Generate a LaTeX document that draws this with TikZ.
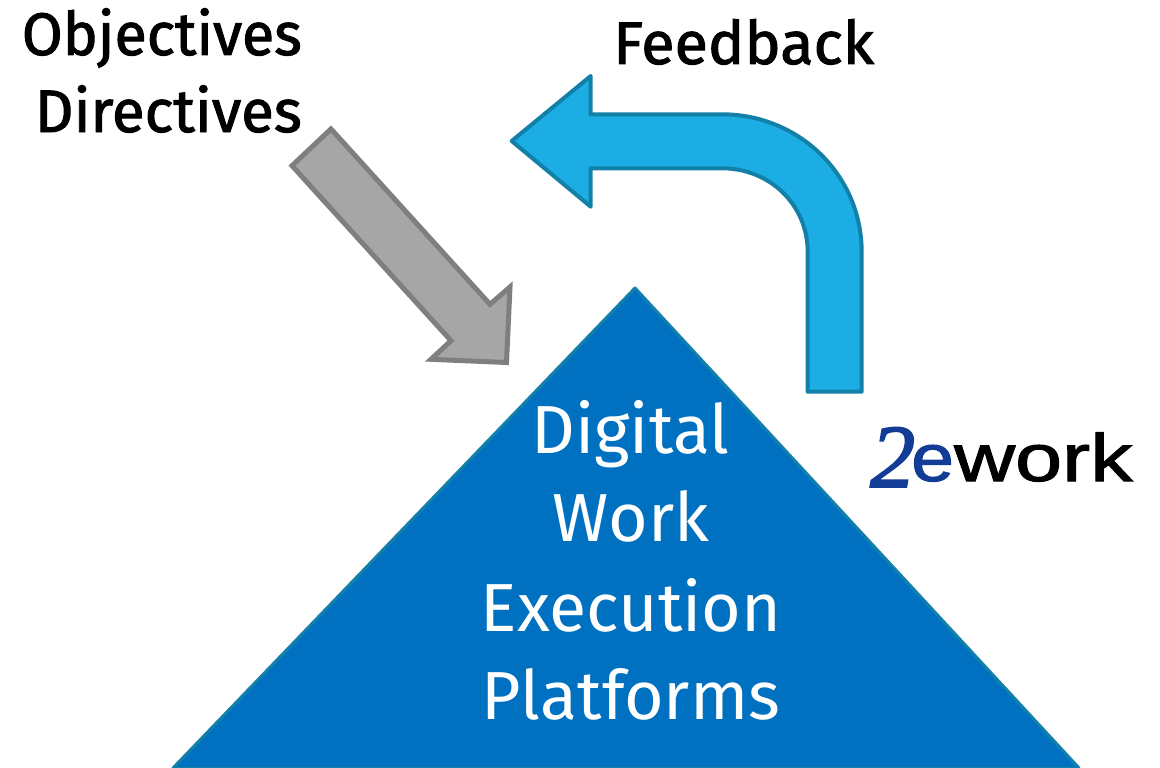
\documentclass[tikz,border=0pt]{standalone}
\usepackage{fontspec}
\setmainfont{Fira Sans}
\newfontfamily\heavyfont{Fira Sans}[RawFeature={embolden=1.6}]
\newfontfamily\logosans{Liberation Sans}[RawFeature={embolden=1.5}]
\newfontfamily\logoserif{Liberation Serif}[RawFeature={embolden=2}]
\definecolor{tribluefill}{HTML}{0070C0}
\definecolor{triblueedge}{HTML}{1380AB}
\definecolor{arrowblue}{HTML}{1CADE4}
\definecolor{arrowedge}{HTML}{1380A8}
\definecolor{grayfill}{HTML}{A6A6A6}
\definecolor{grayedge}{HTML}{7F7F7F}
\definecolor{logoblue}{HTML}{123C96}
\tikzset{
  darklabel/.style={inner sep=0pt,text=black,font=\heavyfont\fontsize{60}{64}\selectfont},
  whitelabel/.style={inner sep=0pt,text=white,font=\fontsize{68}{72}\selectfont},
  logopart/.style={inner sep=0pt,anchor=base west}
}
\begin{document}
\begin{tikzpicture}[x=1pt,y=-1pt]
\useasboundingbox (0,0) rectangle (1160,768);
\begin{scope}
\clip (0,0) rectangle (1160,768);
\draw[triblueedge,line width=3pt,fill=tribluefill,line join=round] (635,288) -- (1079,768) -- (173,768) -- cycle;
\end{scope}
\draw[arrowedge,line width=4pt,fill=arrowblue,line join=round]
  (511.7,141) -- (590.7,76) -- (590.7,114.3) -- (722,114.3)
  .. controls (799,114.3) and (861.7,175) .. (861.7,252)
  -- (861.7,391.7) -- (807.7,391.7) -- (807.7,252)
  .. controls (807.7,205) and (770,168.3) .. (722,168.3)
  -- (590.7,168.3) -- (590.7,206.7) -- cycle;
\draw[grayedge,line width=5pt,fill=grayfill,line join=miter]
  (331,129) -- (490,304.3) -- (510,287) -- (506.5,362.5) -- (431,359.3) -- (451,340.7) -- (292,165.7) -- cycle;
\node[darklabel,anchor=base east] (obj) at (302,55) {\scalebox{0.986}[1]{Objectives}};
\node[darklabel,anchor=base east] (dir) at (302,132) {Directives};
\node[darklabel,anchor=base west] (fb) at (613,64) {\scalebox{1.02}[1]{Feedback}};
\node[whitelabel] (l1) at (630.5,438) {\strut Digital};
\node[whitelabel] (l2) at (631,527) {\strut Work};
\node[whitelabel] (l3) at (631,616) {\strut Execution};
\node[whitelabel] (l4) at (631,705) {\strut Platforms};
\node[logopart,text=logoblue,font=\logoserif\itshape\fontsize{90}{90}\selectfont] (logoa) at (870,487) {2};
\node[logopart,text=logoblue,font=\logosans\fontsize{67}{67}\selectfont] (logob) at (911,481) {\scalebox{1.15}[1]{e}};
\node[logopart,text=black,font=\logosans\fontsize{67}{67}\selectfont] (logoc) at (954,481) {\scalebox{1.26}[1]{work}};
\end{tikzpicture}
\end{document}
